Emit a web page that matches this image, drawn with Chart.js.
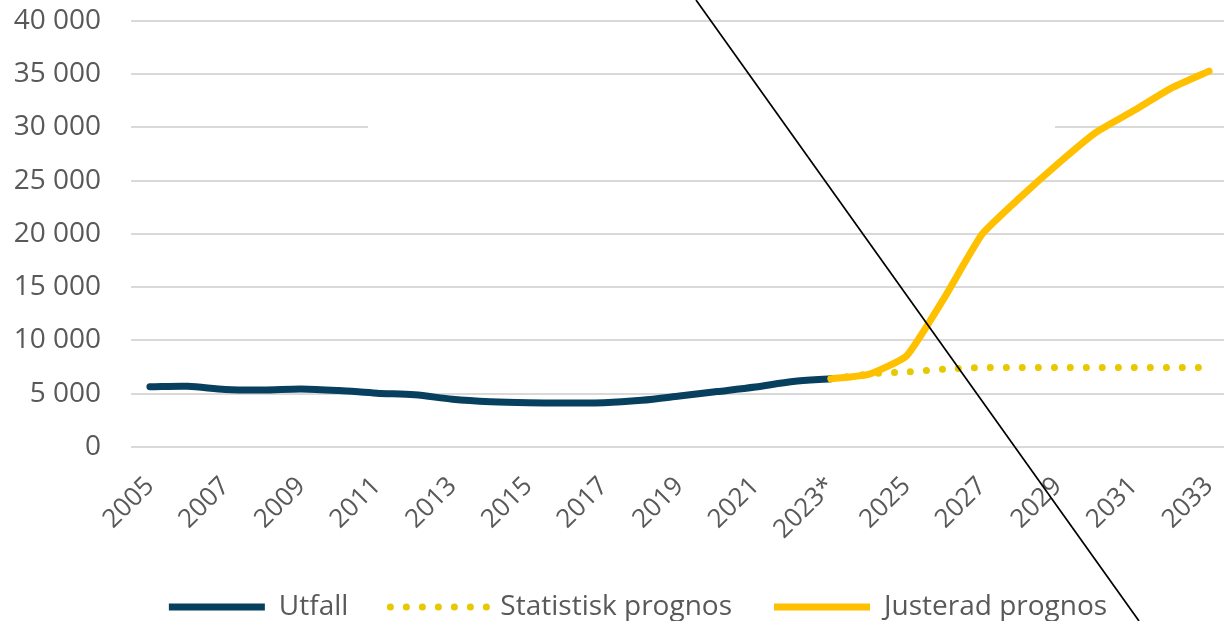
<!DOCTYPE html>
<html lang="sv">
<head>
<meta charset="utf-8">
<title>Prognos</title>
<script src="https://cdn.jsdelivr.net/npm/chart.js@4.4.1/dist/chart.umd.min.js"></script>
<style>
  html, body { margin: 0; padding: 0; background: #fff; overflow: hidden; }
  /* canvas shifted up a little so the plot top lands where the picture has it */
  #wrap { position: relative; top: -26px; width: 1280px; height: 658px; }
</style>
</head>
<body>
<div id="wrap"><canvas id="mycanvas"></canvas></div>

<script>
// data
var years = ['2005','2006','2007','2008','2009','2010','2011','2012','2013','2014',
             '2015','2016','2017','2018','2019','2020','2021','2022','2023*','2024',
             '2025','2026','2027','2028','2029','2030','2031','2032','2033'];

var utfall = [5650, 5700, 5400, 5350, 5450, 5300, 5050, 4900, 4480, 4250,
              4150, 4130, 4150, 4380, 4780, 5200, 5630, 6150, 6400,
              null, null, null, null, null, null, null, null, null, null];

var statistisk = [null, null, null, null, null, null, null, null, null, null,
                  null, null, null, null, null, null, null, null, 6400, 6850,
                  7050, 7300, 7450, 7450, 7450, 7450, 7450, 7450, 7450];

var justerad = [null, null, null, null, null, null, null, null, null, null,
                null, null, null, null, null, null, null, null, 6400, 6820,
                8540, 14000, 19970, 23400, 26570, 29500, 31550, 33680, 35280];

var yTicks = [0, 5000, 10000, 15000, 20000, 25000, 30000, 35000, 40000];

function fmt(v) {
  return String(v).replace(/\B(?=(\d{3})+(?!\d))/g, ' ');
}

// white gap in the 30 000 gridline + the diagonal stroke across the picture
var extras = {
  id: 'extras',
  beforeDatasetsDraw: function(chart) {
    var ctx = chart.ctx;
    var y = chart.scales.y.getPixelForValue(30000);
    ctx.save();
    ctx.fillStyle = '#fff';
    ctx.fillRect(368, y - 3, 687, 6);
    ctx.restore();
  },
  afterDraw: function(chart) {
    var ctx = chart.ctx;
    ctx.save();
    ctx.strokeStyle = '#000';
    ctx.lineWidth = 1.7;
    ctx.beginPath();
    ctx.moveTo(696, 26);
    ctx.lineTo(1139, 647);
    ctx.stroke();
    ctx.restore();
  }
};

var ctx = document.getElementById('mycanvas');

var chart = new Chart(ctx, {
  type: 'line',
  data: {
    labels: years,
    datasets: [
      {
        label: 'Utfall',
        data: utfall,
        borderColor: '#07405e',
        backgroundColor: '#07405e',
        borderWidth: 7,
        borderCapStyle: 'round',
        pointRadius: 0,
        tension: 0.3,
        order: 1
      },
      {
        label: 'Statistisk prognos',
        data: statistisk,
        borderColor: '#e6c900',
        backgroundColor: '#e6c900',
        borderWidth: 7,
        borderDash: [0, 16],
        borderCapStyle: 'round',
        pointRadius: 0,
        tension: 0.3,
        order: 2
      },
      {
        label: 'Justerad prognos',
        data: justerad,
        borderColor: '#ffc000',
        backgroundColor: '#ffc000',
        borderWidth: 7,
        borderCapStyle: 'round',
        pointRadius: 0,
        tension: 0.15,
        order: 0
      }
    ]
  },
  options: {
    responsive: true,
    maintainAspectRatio: false,
    animation: false,
    layout: { padding: { left: 0, right: 4, top: 4, bottom: 1 } },
    plugins: {
      tooltip: { enabled: false },
      legend: {
        position: 'bottom',
        labels: {
          boxWidth: 96,
          boxHeight: 0,
          padding: 42,
          color: '#595959',
          font: { family: 'Open Sans', size: 28 },
          sort: function(a, b) { return a.datasetIndex - b.datasetIndex; }
        }
      }
    },
    scales: {
      x: {
        offset: true,
        grid: { display: false },
        border: { display: false },
        ticks: {
          autoSkip: false,
          maxRotation: 45,
          minRotation: 45,
          padding: 16,
          color: '#595959',
          font: { family: 'Open Sans', size: 26 },
          callback: function(v, i) { return i % 2 === 0 ? years[i] : ''; }
        },
        afterFit: function(s) { s.height = 104; }
      },
      y: {
        min: 0,
        max: 40000,
        grid: { color: '#d9d9d9', lineWidth: 2, drawTicks: false },
        border: { display: false },
        afterBuildTicks: function(s) { s.ticks = yTicks.map(function(v) { return { value: v }; }); },
        ticks: {
          padding: 30,
          color: '#595959',
          font: { family: 'Open Sans', size: 28 },
          callback: function(v) { return fmt(v); }
        },
        afterFit: function(s) { s.width = 131; }
      },
      // empty axis on the right, only there to push the legend centre right like the picture
      y2: {
        position: 'right',
        display: true,
        grid: { display: false },
        border: { display: false },
        ticks: { display: false },
        afterFit: function(s) { s.width = 48; }
      }
    }
  },
  plugins: [extras]
});
</script>
</body>
</html>
